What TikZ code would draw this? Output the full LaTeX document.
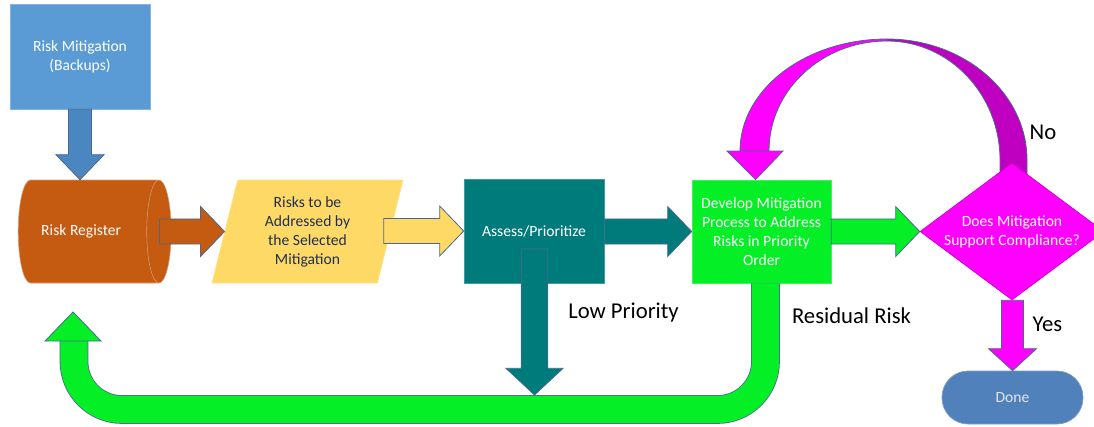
\documentclass[tikz,border=0pt]{standalone}
\usepackage{fontspec}
\setmainfont{Carlito}
\usetikzlibrary{shapes.geometric,calc,positioning}
\pgfdeclarelayer{background}
\pgfsetlayers{background,main}

\definecolor{mitblue}{HTML}{5B9BD5}
\definecolor{arrblue}{HTML}{4A86C0}
\definecolor{regbrown}{HTML}{C55A11}
\definecolor{addryellow}{HTML}{FFD966}
\definecolor{asteal}{HTML}{007B7B}
\definecolor{devgreen}{HTML}{05EF26}
\definecolor{magent}{HTML}{FF00FF}
\definecolor{darkmag}{HTML}{C000C0}
\definecolor{doneblue}{HTML}{5081BA}
\definecolor{edgeblue}{HTML}{4A6890}
\definecolor{navytext}{HTML}{1F2F4F}

% block arrow pointing left/right: start, tip, colour, shaft half, head half, head length
\newcommand\harrow[6]{%
  \filldraw[blk,fill=#3] let \p1=#1, \p2=#2, \n1={sign(\x2-\x1)} in
    (\x1,{\y2+#4}) -- ({\x2-\n1*#6},{\y2+#4}) -- ({\x2-\n1*#6},{\y2+#5}) -- (\x2,\y2)
    -- ({\x2-\n1*#6},{\y2-#5}) -- ({\x2-\n1*#6},{\y2-#4}) -- (\x1,{\y2-#4}) -- cycle;}
% block arrow pointing up/down
\newcommand\varrow[6]{%
  \filldraw[blk,fill=#3] let \p1=#1, \p2=#2, \n1={sign(\y1-\y2)} in
    ({\x2-#4},\y1) -- ({\x2-#4},{\y2+\n1*#6}) -- ({\x2-#5},{\y2+\n1*#6}) -- (\x2,\y2)
    -- ({\x2+#5},{\y2+\n1*#6}) -- ({\x2+#4},{\y2+\n1*#6}) -- ({\x2+#4},\y1) -- cycle;}

\begin{document}
\begin{tikzpicture}[x=0.75pt,y=-0.75pt,
  boxtext/.style={align=center,font=\fontsize{11.7}{14.25}\selectfont},
  stepbox/.style={rectangle,boxtext,inner sep=2pt,draw=#1!75!white,fill=#1,line width=0.5pt},
  blk/.style={draw=edgeblue,line width=0.6pt,line join=miter},
  biglabel/.style={inner sep=0pt,font=\fontsize{17}{20}\selectfont}]
\useasboundingbox (0,0) rectangle (1094,426);

% boxes
\node[stepbox=mitblue,text=white,minimum width=105pt,minimum height=78.75pt] (mitig) at (80,56.5) {Risk Mitigation\\(Backups)};
\node[cylinder,boxtext,text=white,draw=regbrown!60!white,fill=regbrown,aspect=1.3,
  minimum width=77.25pt,minimum height=114.75pt,inner sep=2pt] (register) at (86.5,231.5) {Risk Register\hspace*{8pt}};
\node[trapezium,boxtext,text=navytext,fill=addryellow,draw=addryellow!80!white,
  trapezium left angle=70.7,trapezium right angle=109.3,trapezium stretches body,
  minimum height=77.25pt,minimum width=143.25pt,inner sep=1pt] (addr) at (307.5,231.5)
  {Risks to be\\Addressed by\\the Selected\\Mitigation};
\node[stepbox=asteal,text=white,minimum width=105pt,minimum height=78pt] (assess) at (534,231) {Assess/Prioritize};
\node[stepbox=devgreen,text=white,minimum width=104.25pt,minimum height=77.25pt] (develop) at (761.5,231.5)
  {Develop Mitigation\\Process to Address\\Risks in Priority\\Order};
\node[diamond,fill=magent,draw=magent!80!black,line width=0.5pt,inner sep=0pt,
  minimum width=138pt,minimum height=102.75pt] (decide) at (1012,231.5) {};
\node[boxtext,text=white] (decidetext) at (decide.center) {Does Mitigation\\Support Compliance?};
\node[stepbox=doneblue,text=white!90!black,rounded corners=19.5pt,minimum width=105.75pt,minimum height=39.75pt] (done) at (1012.5,397.5) {Done};

% labels
\node[biglabel] (low) at (623.5,313) {Low Priority};
\node[biglabel] (residual) at (851.5,316) {Residual Risk};
\node[biglabel] (no) at (1043,132.5) {No};
\node[biglabel] (yes) at (1047.5,324) {Yes};

% end points
\coordinate (regtop) at (mitig.south |- register.north);
\coordinate (regout) at ([xshift=-9pt]register.east);
\coordinate (addrout) at ([xshift=-5pt]addr.east);
\coordinate (lowstart) at ([yshift=-13.5pt]assess.center);
\coordinate (lowtip) at (534.5,395);
\coordinate (gstart) at ([xshift=3pt]develop.south);
\coordinate (gtip) at (73,312);
\coordinate (notip) at ([xshift=-4.5pt]develop.north);
\coordinate (nobase) at (755,151);

% straight arrows
\varrow{(mitig.south)}{(regtop)}{arrblue}{8.6pt}{18pt}{18.75pt}
\harrow{(regout)}{(addr.west)}{regbrown}{9.4pt}{18.75pt}{18pt}
\harrow{(addrout)}{(assess.west)}{addryellow}{9.4pt}{18.75pt}{18pt}
\harrow{(assess.east)}{(develop.west)}{asteal}{9.4pt}{18.75pt}{18pt}
\harrow{(develop.east)}{(decide.west)}{devgreen}{9.4pt}{18.75pt}{18pt}
\varrow{(decide.south)}{(done.north)}{magent}{8.25pt}{18pt}{16.5pt}

% residual risk loop
\draw[edgeblue,line width=21.5pt,rounded corners=36pt] (gstart) |- (74,409.5) -- (74,341);
\draw[devgreen,line width=20.3pt,rounded corners=36pt] (gstart) |- (74,409.5) -- (74,341);
\filldraw[blk,fill=devgreen] ($(gtip)+(-28,29)$) -- (gtip) -- ($(gtip)+(28,29)$) -- cycle;

% low priority
\varrow{(lowstart)}{(lowtip)}{asteal}{10pt}{21.4pt}{20pt}

% no loop
\begin{pgfonlayer}{background}
\filldraw[blk,fill=darkmag] (887,39) .. controls (964,39) and (1027,93) .. (1027,160) -- ($(decide.north)+(15,20)$)
  -- ($(decide.north)+(-12,20)$) -- (1000,160) .. controls (1000,94) and (949,41) .. (887,41) -- cycle;
\end{pgfonlayer}
\filldraw[blk,fill=magent] ($(nobase)+(-15,0)$) .. controls (740,89) and (806,39) .. (887,39)
  -- (887,41) .. controls (822,41) and (769,90) .. ($(nobase)+(14,0)$) -- cycle;
\filldraw[blk,fill=magent] ($(nobase)+(-28,0)$) -- (notip) -- ($(nobase)+(28,0)$) -- cycle;
\end{tikzpicture}
\end{document}
